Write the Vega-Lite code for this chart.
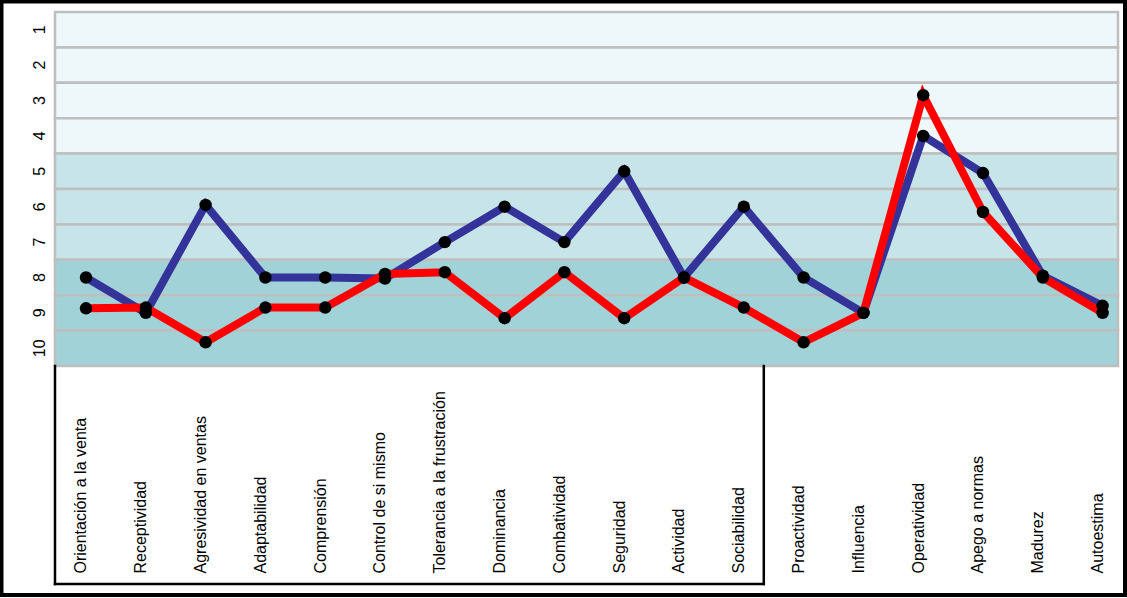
{
  "$schema": "https://vega.github.io/schema/vega-lite/v6.json",
  "width": 1063,
  "height": 354,
  "autosize": {"type": "none"},
  "padding": {"left": 55, "top": 12, "right": 9, "bottom": 232},
  "background": "white",
  "config": {"view": {"stroke": null}, "font": "Liberation Sans"},
  "datasets": {
    "niveles": [
      {"nivel": 1, "zona": "clara"},
      {"nivel": 2, "zona": "clara"},
      {"nivel": 3, "zona": "clara"},
      {"nivel": 4, "zona": "clara"},
      {"nivel": 5, "zona": "media"},
      {"nivel": 6, "zona": "media"},
      {"nivel": 7, "zona": "media"},
      {"nivel": 8, "zona": "oscura"},
      {"nivel": 9, "zona": "oscura"},
      {"nivel": 10, "zona": "oscura"}
    ],
    "puntajes": [
      {"factor": "Orientación a la venta", "serie": "Serie 1", "valor": 8.0},
      {"factor": "Receptividad", "serie": "Serie 1", "valor": 9.0},
      {"factor": "Agresividad en ventas", "serie": "Serie 1", "valor": 5.95},
      {"factor": "Adaptabilidad", "serie": "Serie 1", "valor": 8.0},
      {"factor": "Comprensión", "serie": "Serie 1", "valor": 8.0},
      {"factor": "Control de si mismo", "serie": "Serie 1", "valor": 8.03},
      {"factor": "Tolerancia a la frustración", "serie": "Serie 1", "valor": 7.0},
      {"factor": "Dominancia", "serie": "Serie 1", "valor": 6.0},
      {"factor": "Combatividad", "serie": "Serie 1", "valor": 7.0},
      {"factor": "Seguridad", "serie": "Serie 1", "valor": 5.0},
      {"factor": "Actividad", "serie": "Serie 1", "valor": 8.0},
      {"factor": "Sociabilidad", "serie": "Serie 1", "valor": 6.0},
      {"factor": "Proactividad", "serie": "Serie 1", "valor": 8.0},
      {"factor": "Influencia", "serie": "Serie 1", "valor": 9.0},
      {"factor": "Operatividad", "serie": "Serie 1", "valor": 4.0},
      {"factor": "Apego a normas", "serie": "Serie 1", "valor": 5.05},
      {"factor": "Madurez", "serie": "Serie 1", "valor": 7.95},
      {"factor": "Autoestima", "serie": "Serie 1", "valor": 8.8},
      {"factor": "Orientación a la venta", "serie": "Serie 2", "valor": 8.87},
      {"factor": "Receptividad", "serie": "Serie 2", "valor": 8.85},
      {"factor": "Agresividad en ventas", "serie": "Serie 2", "valor": 9.83},
      {"factor": "Adaptabilidad", "serie": "Serie 2", "valor": 8.85},
      {"factor": "Comprensión", "serie": "Serie 2", "valor": 8.85},
      {"factor": "Control de si mismo", "serie": "Serie 2", "valor": 7.9},
      {"factor": "Tolerancia a la frustración", "serie": "Serie 2", "valor": 7.85},
      {"factor": "Dominancia", "serie": "Serie 2", "valor": 9.15},
      {"factor": "Combatividad", "serie": "Serie 2", "valor": 7.85},
      {"factor": "Seguridad", "serie": "Serie 2", "valor": 9.15},
      {"factor": "Actividad", "serie": "Serie 2", "valor": 8.0},
      {"factor": "Sociabilidad", "serie": "Serie 2", "valor": 8.85},
      {"factor": "Proactividad", "serie": "Serie 2", "valor": 9.83},
      {"factor": "Influencia", "serie": "Serie 2", "valor": 9.0},
      {"factor": "Operatividad", "serie": "Serie 2", "valor": 2.85},
      {"factor": "Apego a normas", "serie": "Serie 2", "valor": 6.15},
      {"factor": "Madurez", "serie": "Serie 2", "valor": 8.0},
      {"factor": "Autoestima", "serie": "Serie 2", "valor": 9.0}
    ]
  },
  "layer": [
    {
      "data": {"name": "niveles"},
      "mark": {"type": "rect", "stroke": "#BEBEBE", "strokeWidth": 2.5},
      "encoding": {
        "y": {
          "field": "nivel",
          "type": "ordinal",
          "scale": {"paddingInner": 0, "paddingOuter": 0},
          "axis": {
            "title": null,
            "domain": false,
            "ticks": false,
            "grid": false,
            "labelAngle": -90,
            "labelAlign": "center",
            "labelBaseline": "alphabetic",
            "labelPadding": 11,
            "labelFontSize": 16,
            "labelColor": "black",
            "labelFont": "Liberation Sans"
          }
        },
        "x": {"value": 0},
        "x2": {"value": "width"},
        "fill": {
          "field": "zona",
          "type": "nominal",
          "scale": {"domain": ["clara", "media", "oscura"], "range": ["#EEF7F9", "#C7E5E8", "#A0D2D7"]},
          "legend": null
        }
      }
    },
    {
      "data": {"name": "puntajes"},
      "encoding": {
        "x": {
          "field": "factor",
          "type": "nominal",
          "scale": {
            "type": "point",
            "domain": ["Orientación a la venta", "Receptividad", "Agresividad en ventas", "Adaptabilidad", "Comprensión", "Control de si mismo", "Tolerancia a la frustración", "Dominancia", "Combatividad", "Seguridad", "Actividad", "Sociabilidad", "Proactividad", "Influencia", "Operatividad", "Apego a normas", "Madurez", "Autoestima"],
            "padding": 0.388,
            "align": 0.668
          },
          "axis": {
            "title": null,
            "domain": false,
            "ticks": false,
            "grid": false,
            "labelAngle": -90,
            "labelAlign": "left",
            "labelBaseline": "alphabetic",
            "labelPadding": 207,
            "labelFontSize": 16,
            "labelColor": "black",
            "labelLimit": 400,
            "labelOverlap": false,
            "labelFont": "Liberation Sans"
          }
        },
        "y": {
          "field": "valor",
          "type": "quantitative",
          "scale": {"domain": [0.5, 10.5], "reverse": true, "nice": false, "zero": false},
          "axis": null
        }
      },
      "layer": [
        {
          "transform": [{"filter": "datum.serie === 'Serie 1'"}],
          "mark": {"type": "line", "color": "#333399", "strokeWidth": 8, "strokeJoin": "miter", "strokeCap": "butt"}
        },
        {
          "transform": [{"filter": "datum.serie === 'Serie 2'"}],
          "mark": {"type": "line", "color": "#FF0000", "strokeWidth": 8, "strokeJoin": "miter", "strokeCap": "butt"}
        },
        {
          "mark": {"type": "circle", "size": 155, "color": "black", "opacity": 1}
        }
      ]
    },
    {
      "data": {"values": [{}]},
      "mark": {"type": "rule", "color": "black", "strokeWidth": 2.5, "strokeCap": "square", "y2Offset": 218},
      "encoding": {"x": {"value": 0}, "y": {"value": "height"}, "y2": {"value": "height"}}
    },
    {
      "data": {"values": [{}]},
      "mark": {"type": "rule", "color": "black", "strokeWidth": 2.5, "strokeCap": "square", "xOffset": 20, "y2Offset": 218},
      "encoding": {"x": {"datum": "Sociabilidad", "type": "nominal"}, "y": {"value": "height"}, "y2": {"value": "height"}}
    },
    {
      "data": {"values": [{}]},
      "mark": {"type": "rule", "color": "black", "strokeWidth": 2.5, "strokeCap": "square", "xOffset": -31, "x2Offset": 20, "yOffset": 218},
      "encoding": {"x": {"datum": "Orientación a la venta", "type": "nominal"}, "x2": {"datum": "Sociabilidad"}, "y": {"value": "height"}}
    },
    {
      "data": {"values": [{}]},
      "mark": {"type": "rect", "fill": "white", "fillOpacity": 0, "stroke": "black", "strokeWidth": 4, "xOffset": -53.5, "x2Offset": 7, "yOffset": -10.5, "y2Offset": 229},
      "encoding": {"x": {"value": 0}, "x2": {"value": "width"}, "y": {"value": 0}, "y2": {"value": "height"}}
    }
  ],
  "resolve": {"scale": {"y": "independent"}}
}
